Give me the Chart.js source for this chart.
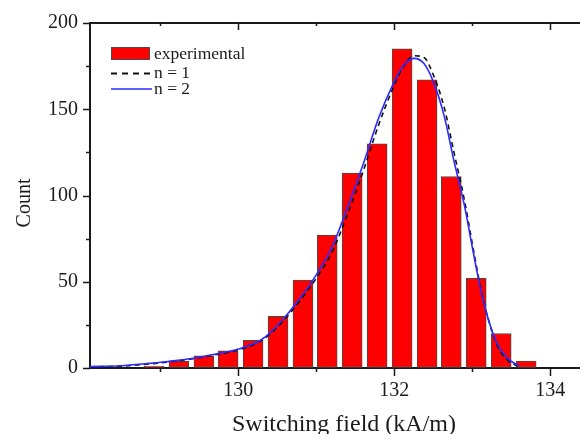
<!DOCTYPE html>
<html>
<head>
<meta charset="utf-8">
<title>Switching field histogram</title>
<script src="https://cdn.jsdelivr.net/npm/chart.js@4.4.1/dist/chart.umd.min.js"></script>
<style>
  html, body { margin: 0; padding: 0; background: #fff; overflow: hidden; }
  #wrap { width: 580px; height: 434px; position: relative; }
</style>
</head>
<body>
<div id="wrap"><canvas id="switchingField"></canvas></div>
<script>
(function () {
    "use strict";

    // histogram: bin centres (kA/m) and counts
    const binCentres = [128.92, 129.24, 129.56, 129.87, 130.19, 130.51, 130.83, 131.14,
                        131.46, 131.78, 132.10, 132.42, 132.73, 133.05, 133.37, 133.69];
    const counts     = [1, 4, 7, 10, 16, 30, 51, 77, 113, 130, 185, 167, 111, 52, 20, 4];

    // fitted curves
    const fitX  = [128.1, 128.5, 128.8, 129.1, 129.4, 129.7, 130.0, 130.3, 130.55, 130.8,
                   131.0, 131.2, 131.4, 131.6, 131.8, 132.0, 132.12, 132.25, 132.38, 132.5,
                   132.64, 132.76, 132.9, 133.0, 133.1, 133.2, 133.32, 133.45, 133.6];
    const fitN1 = [0.6, 1.1, 2.1, 3.5, 5.2, 7.6, 10.5, 16, 26, 39.5,
                   52, 67, 89, 114, 141, 164, 175, 181, 180, 170,
                   151, 126, 97, 72, 48, 29, 13, 4.5, 0.8];
    const fitN2 = [0.8, 1.3, 2.4, 3.8, 5.5, 8, 11, 16.5, 27, 41,
                   54, 70, 93, 118, 145, 166, 175.5, 179.5, 176.5, 166,
                   146, 121, 94, 70, 47, 29, 14, 5.6, 1.2];

    const xMajor = [130, 132, 134];
    const xMinor = [129, 131, 133];
    const yMajor = [0, 50, 100, 150, 200];
    const yMinor = [25, 75, 125, 175];

    const serif = "'Liberation Serif', 'DejaVu Serif', serif";
    const ink = '#1a1a1a';

    function pairs(xs, ys) {
        return xs.map(function (x, i) { return { x: x, y: ys[i] }; });
    }

    // tick marks (major / minor) and the mirrored top axis
    const axisMarks = {
        id: 'axisMarks',
        afterDraw: function (chart) {
            const c = chart.ctx;
            const a = chart.chartArea;
            const sx = chart.scales.x;
            const sy = chart.scales.y;
            c.save();
            c.strokeStyle = ink;
            c.lineWidth = 2;
            c.beginPath();
            c.moveTo(a.left - 1, a.top);
            c.lineTo(a.right, a.top);
            c.stroke();

            c.lineWidth = 1.5;
            c.beginPath();
            xMajor.concat(xMinor).forEach(function (v) {
                const px = Math.round(sx.getPixelForValue(v)) + 0.5;
                const len = xMajor.indexOf(v) >= 0 ? 8 : 4;
                c.moveTo(px, a.bottom);
                c.lineTo(px, a.bottom + len);
                c.moveTo(px, a.top);
                c.lineTo(px, a.top + len - 1);
            });
            yMajor.concat(yMinor).forEach(function (v) {
                const py = Math.round(sy.getPixelForValue(v)) + 0.5;
                const len = yMajor.indexOf(v) >= 0 ? 7 : 4;
                c.moveTo(a.left, py);
                c.lineTo(a.left - len, py);
            });
            c.stroke();
            c.restore();
        }
    };

    // legend drawn inside the plot, top left
    const insideLegend = {
        id: 'insideLegend',
        afterDraw: function (chart) {
            const c = chart.ctx;
            const a = chart.chartArea;
            const ds = chart.data.datasets;
            const x0 = a.left + 21;
            const x1 = x0 + 39;
            c.save();
            c.font = '17.5px ' + serif;
            c.textBaseline = 'middle';

            const bar = ds[2];
            c.fillStyle = bar.backgroundColor;
            c.fillRect(x0, a.top + 24, x1 - x0, 13);
            c.strokeStyle = bar.borderColor;
            c.lineWidth = 1;
            c.strokeRect(x0 + 0.5, a.top + 24.5, x1 - x0 - 1, 12);

            const n1 = ds[1];
            c.strokeStyle = n1.borderColor;
            c.lineWidth = 2;
            c.setLineDash([6, 5]);
            c.beginPath();
            c.moveTo(x0, a.top + 50.5);
            c.lineTo(x1 + 2, a.top + 50.5);
            c.stroke();

            const n2 = ds[0];
            c.setLineDash([]);
            c.strokeStyle = n2.borderColor;
            c.lineWidth = n2.borderWidth;
            c.beginPath();
            c.moveTo(x0, a.top + 66);
            c.lineTo(x1 + 2, a.top + 66);
            c.stroke();

            c.fillStyle = ink;
            c.fillText(bar.label, x1 + 4, a.top + 31);
            c.fillText(n1.label, x1 + 4, a.top + 50);
            c.fillText(n2.label, x1 + 4, a.top + 66);
            c.restore();
        }
    };

    const ctx = document.getElementById('switchingField');
    new Chart(ctx, {
        type: 'bar',
        data: {
            datasets: [
                {
                    type: 'line',
                    label: 'n = 2',
                    data: pairs(fitX, fitN2),
                    borderColor: '#2b2bff',
                    borderWidth: 1.6,
                    pointRadius: 0,
                    cubicInterpolationMode: 'monotone',
                    order: 1
                },
                {
                    type: 'line',
                    label: 'n = 1',
                    data: pairs(fitX, fitN1),
                    borderColor: '#111111',
                    borderWidth: 1.6,
                    borderDash: [5, 4],
                    pointRadius: 0,
                    cubicInterpolationMode: 'monotone',
                    order: 2
                },
                {
                    type: 'bar',
                    label: 'experimental',
                    data: pairs(binCentres, counts),
                    backgroundColor: '#ff0000',
                    borderColor: '#4a4a4a',
                    borderWidth: 1,
                    borderSkipped: false,
                    barThickness: 20,
                    order: 3
                }
            ]
        },
        options: {
            responsive: true,
            maintainAspectRatio: false,
            animation: false,
            layout: { padding: { top: 23, right: 0, bottom: 0, left: 0 } },
            plugins: {
                legend: { display: false },
                tooltip: { enabled: false }
            },
            scales: {
                x: {
                    type: 'linear',
                    offset: false,
                    min: 128.1,
                    max: 134.38,
                    afterBuildTicks: function (s) { s.ticks = xMajor.map(function (v) { return { value: v }; }); },
                    afterFit: function (s) { s.height = 66; },
                    grid: { offset: false, drawOnChartArea: false, tickLength: 8, tickColor: 'transparent' },
                    border: { color: ink, width: 2 },
                    ticks: { font: { family: serif, size: 20 }, color: ink, padding: 3, maxRotation: 0 },
                    title: {
                        display: true,
                        text: '   Switching field (kA/m)',
                        font: { family: serif, size: 24 },
                        color: ink,
                        padding: { top: 0, bottom: -5 }
                    }
                },
                y: {
                    min: 0,
                    max: 200,
                    afterBuildTicks: function (s) { s.ticks = yMajor.map(function (v) { return { value: v }; }); },
                    afterFit: function (s) { s.width = 90; },
                    grid: { drawOnChartArea: false, tickLength: 7, tickColor: 'transparent' },
                    border: { color: ink, width: 2 },
                    ticks: { font: { family: serif, size: 20 }, color: ink, padding: 5 },
                    title: {
                        display: true,
                        text: 'Count   ',
                        font: { family: serif, size: 20 },
                        color: ink,
                        padding: { top: 13, bottom: 0 }
                    }
                }
            }
        },
        plugins: [axisMarks, insideLegend]
    });
})();
</script>
</body>
</html>
